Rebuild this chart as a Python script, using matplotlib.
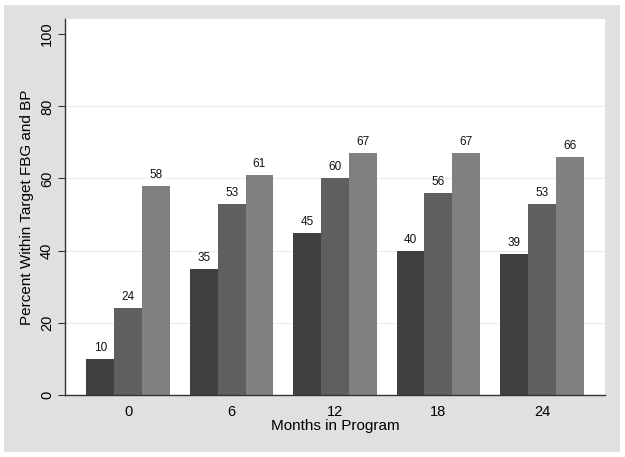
import matplotlib
matplotlib.use("Agg")
import matplotlib.pyplot as plt
import numpy as np
from matplotlib.patches import Rectangle

months = ["0", "6", "12", "18", "24"]
series_a = [10, 35, 45, 40, 39]
series_b = [24, 53, 60, 56, 53]
series_c = [58, 61, 67, 67, 66]
colors = ["#404040", "#5f5f5f", "#808080"]
yticks = [0, 20, 40, 60, 80, 100]

plt.rcParams['font.family'] = ['Liberation Sans', 'DejaVu Sans']

fig = plt.figure(figsize=(6.25, 4.57), dpi=100, facecolor="white")
bg = fig.add_axes([0, 0, 1, 1], zorder=0)
bg.set_axis_off()
bg.add_patch(Rectangle((4/625, 5/457), 616/625, 447/457, transform=bg.transAxes,
                       facecolor="#e0e0e0", edgecolor="none"))
ax = fig.add_axes([65/625, (457-395)/457, 540/625, 376/457], zorder=1)
ax.set_facecolor("white")

x = np.arange(len(months))
w = 0.27
for i, (vals, c) in enumerate(zip([series_a, series_b, series_c], colors)):
    pos = x + (i - 1) * w
    ax.bar(pos, vals, width=w, color=c, edgecolor="none", zorder=2)
    for p, v in zip(pos, vals):
        ax.text(p, v + 1.4, str(v), ha="center", va="bottom", fontsize=8.5, color="#111111")

ax.set_xlim(-0.61, 4.61)
ax.set_ylim(0, 104.2)
ax.set_yticks(yticks)
ax.set_yticklabels([str(t) for t in yticks], rotation=90, va="center", fontsize=10.5)
ax.set_xticks(x)
ax.set_xticklabels(months, fontsize=10.5)
ax.tick_params(axis="x", length=0, pad=7)
ax.tick_params(axis="y", length=5, width=0.8, color="#333333", pad=3)
for yv in yticks[1:-1]:
    ax.axhline(yv, color="#e8eeee", linewidth=0.8, zorder=1)
for s in ["top", "right"]:
    ax.spines[s].set_visible(False)
for s in ["left", "bottom"]:
    ax.spines[s].set_color("#333333")
    ax.spines[s].set_linewidth(1.0)

ax.set_xlabel("Months in Program", fontsize=11, labelpad=0)
ax.set_ylabel("Percent Within Target FBG and BP", fontsize=11, labelpad=4)

fig.savefig("out.png", dpi=100, facecolor="white")
